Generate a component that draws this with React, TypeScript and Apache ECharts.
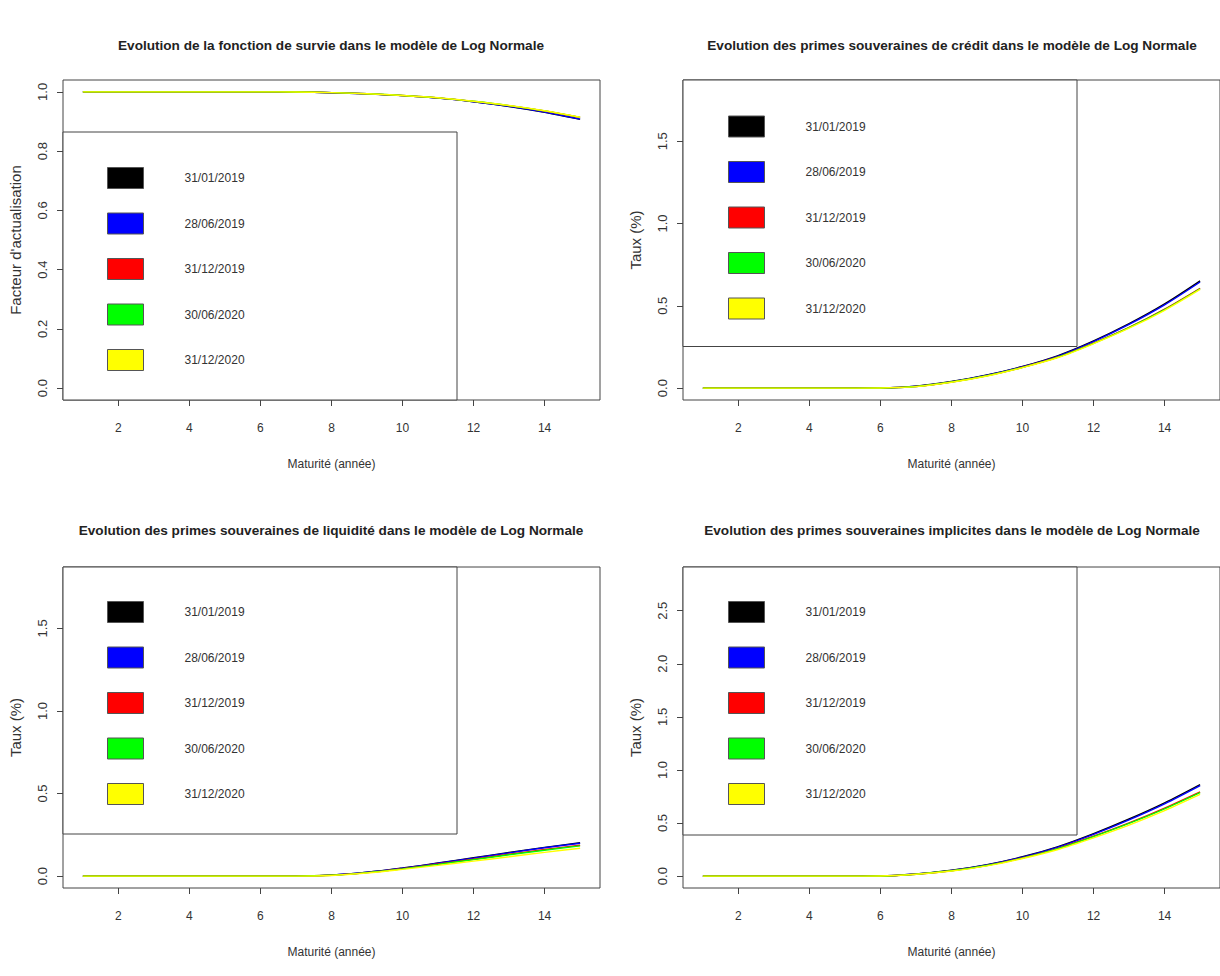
import React, { useEffect, useRef } from "react";
import * as echarts from "echarts";

// ---------- data ----------
const maturity = [1, 2, 3, 4, 5, 6, 7, 8, 9, 10, 11, 12, 13, 14, 15];
const dates = ["31/01/2019", "28/06/2019", "31/12/2019", "30/06/2020", "31/12/2020"];
const colors = ["#000000", "#0000FF", "#FF0000", "#00FF00", "#FFFF00"];

const titles = [
  "Evolution de la fonction de survie dans le modèle de Log Normale",
  "Evolution des primes souveraines de crédit dans le modèle de Log Normale",
  "Evolution des primes souveraines de liquidité dans le modèle de Log Normale",
  "Evolution des primes souveraines implicites dans le modèle de Log Normale",
];
const yNames = ["Facteur d'actualisation", "Taux (%)", "Taux (%)", "Taux (%)"];
const xName = "Maturité (année)";
const xTicks = [2, 4, 6, 8, 10, 12, 14];
const yTicksSurvie = [0, 0.2, 0.4, 0.6, 0.8, 1.0];
const yTicksCredit = [0, 0.5, 1.0, 1.5];
const yTicksLiquidite = [0, 0.5, 1.0, 1.5];
const yTicksImplicite = [0, 0.5, 1.0, 1.5, 2.0, 2.5];
const yLimSurvie = [0, 1];
const yLimCredit = [0, 1.8];
const yLimLiquidite = [0, 1.8];
const yLimImplicite = [0, 2.8];

// fonction de survie
const survie_20190131 = [1, 1, 1, 1, 1, 1, 0.9993, 0.9972, 0.9933, 0.9871, 0.9788, 0.9664, 0.9506, 0.9311, 0.9071];
const survie_20190628 = [1, 1, 1, 1, 1, 1, 0.9993, 0.9972, 0.9934, 0.9873, 0.9791, 0.9668, 0.9512, 0.9318, 0.908];
const survie_20191231 = [1, 1, 1, 1, 1, 1, 0.9994, 0.9974, 0.9935, 0.9876, 0.9797, 0.9679, 0.9534, 0.9353, 0.9133];
const survie_20200630 = [1, 1, 1, 1, 1, 1, 0.9994, 0.9974, 0.9936, 0.9877, 0.9798, 0.9681, 0.9537, 0.9357, 0.9137];
const survie_20201231 = [1, 1, 1, 1, 1, 1, 0.9995, 0.9974, 0.9937, 0.9878, 0.98, 0.9684, 0.954, 0.9362, 0.9142];

// primes de crédit (%)
const credit_20190131 = [0, 0, 0, 0, 0, 0.001, 0.012, 0.04, 0.08, 0.132, 0.198, 0.287, 0.392, 0.512, 0.652];
const credit_20190628 = [0, 0, 0, 0, 0, 0.001, 0.012, 0.039, 0.079, 0.13, 0.195, 0.283, 0.387, 0.506, 0.645];
const credit_20191231 = [0, 0, 0, 0, 0, 0.001, 0.01, 0.037, 0.076, 0.127, 0.189, 0.274, 0.369, 0.48, 0.607];
const credit_20200630 = [0, 0, 0, 0, 0, 0.001, 0.01, 0.037, 0.075, 0.126, 0.188, 0.272, 0.367, 0.477, 0.604];
const credit_20201231 = [0, 0, 0, 0, 0, 0.001, 0.009, 0.036, 0.074, 0.125, 0.186, 0.27, 0.364, 0.473, 0.6];

// primes de liquidité (%)
const liquidite_20190131 = [0, 0, 0, 0, 0, 0, 0, 0.006, 0.023, 0.049, 0.079, 0.111, 0.143, 0.174, 0.202];
const liquidite_20190628 = [0, 0, 0, 0, 0, 0, 0, 0.006, 0.023, 0.048, 0.078, 0.109, 0.141, 0.172, 0.199];
const liquidite_20191231 = [0, 0, 0, 0, 0, 0, 0, 0.005, 0.021, 0.045, 0.073, 0.102, 0.132, 0.161, 0.187];
const liquidite_20200630 = [0, 0, 0, 0, 0, 0, 0, 0.005, 0.021, 0.044, 0.071, 0.1, 0.129, 0.157, 0.183];
const liquidite_20201231 = [0, 0, 0, 0, 0, 0, 0, 0.004, 0.019, 0.041, 0.065, 0.091, 0.117, 0.144, 0.169];

// primes implicites (%)
const implicite_20190131 = [0, 0, 0, 0, 0, 0.001, 0.02, 0.055, 0.108, 0.182, 0.278, 0.4, 0.538, 0.69, 0.862];
const implicite_20190628 = [0, 0, 0, 0, 0, 0.001, 0.02, 0.054, 0.106, 0.179, 0.273, 0.394, 0.53, 0.681, 0.853];
const implicite_20191231 = [0, 0, 0, 0, 0, 0.001, 0.018, 0.051, 0.101, 0.172, 0.262, 0.376, 0.501, 0.641, 0.794];
const implicite_20200630 = [0, 0, 0, 0, 0, 0.001, 0.018, 0.05, 0.1, 0.17, 0.259, 0.372, 0.496, 0.634, 0.787];
const implicite_20201231 = [0, 0, 0, 0, 0, 0.001, 0.017, 0.048, 0.096, 0.166, 0.251, 0.361, 0.481, 0.617, 0.769];

// ---------- layout ----------
const FONT = "Liberation Sans";
const panels = [
  {
    grid: { left: 63, top: 80, width: 537, height: 320 },
    titleX: 331, titleY: 38,
    yLim: yLimSurvie, yTicks: yTicksSurvie,
    values: [survie_20190131, survie_20190628, survie_20191231, survie_20200630, survie_20201231],
    legend: { left: 107, top: 167 },
    box: { x: 63, y: 132, width: 394, height: 268 },
  },
  {
    grid: { left: 683, top: 80, width: 538, height: 320 },
    titleX: 952, titleY: 38,
    yLim: yLimCredit, yTicks: yTicksCredit,
    values: [credit_20190131, credit_20190628, credit_20191231, credit_20200630, credit_20201231],
    legend: { left: 728, top: 115.5 },
    box: { x: 683, y: 80, width: 394, height: 266.5 },
  },
  {
    grid: { left: 63, top: 567, width: 537, height: 321 },
    titleX: 331, titleY: 523,
    yLim: yLimLiquidite, yTicks: yTicksLiquidite,
    values: [liquidite_20190131, liquidite_20190628, liquidite_20191231, liquidite_20200630, liquidite_20201231],
    legend: { left: 107, top: 601 },
    box: { x: 63, y: 567, width: 394, height: 267 },
  },
  {
    grid: { left: 683, top: 567, width: 538, height: 321 },
    titleX: 952, titleY: 523,
    yLim: yLimImplicite, yTicks: yTicksImplicite,
    values: [implicite_20190131, implicite_20190628, implicite_20191231, implicite_20200630, implicite_20201231],
    legend: { left: 728, top: 601 },
    box: { x: 683, y: 567, width: 394, height: 268 },
  },
];

function buildOption() {
  const xPad = (maturity[maturity.length - 1] - maturity[0]) * 0.04;
  const axisColor = "#444";
  const option: any = {
    animation: false,
    backgroundColor: "#ffffff",
    title: [],
    grid: [],
    xAxis: [],
    yAxis: [],
    series: [],
    legend: [],
    graphic: [],
  };
  panels.forEach((p, i) => {
    option.title.push({
      text: titles[i],
      left: p.titleX,
      top: p.titleY,
      textAlign: "center",
      padding: 0,
      textStyle: { fontFamily: FONT, fontSize: 13.6, fontWeight: "bold", color: "#222" },
    });
    option.grid.push({
      ...p.grid,
      show: true,
      borderColor: axisColor,
      borderWidth: 1,
      backgroundColor: "transparent",
      containLabel: false,
    });
    option.xAxis.push({
      type: "value",
      gridIndex: i,
      min: maturity[0] - xPad,
      max: maturity[maturity.length - 1] + xPad,
      name: xName,
      nameLocation: "middle",
      nameGap: 58,
      nameTextStyle: { fontFamily: FONT, fontSize: 12, color: "#333" },
      axisLine: { show: false, onZero: false },
      splitLine: { show: false },
      axisTick: { show: true, length: 6, lineStyle: { color: axisColor }, customValues: xTicks },
      axisLabel: {
        customValues: xTicks,
        margin: 22,
        fontFamily: FONT,
        fontSize: 12,
        color: "#333",
      },
    });
    const span = p.yLim[1] - p.yLim[0];
    option.yAxis.push({
      type: "value",
      gridIndex: i,
      min: p.yLim[0] - span * 0.04,
      max: p.yLim[1] + span * 0.04,
      name: yNames[i],
      nameLocation: "middle",
      nameGap: 40,
      nameTextStyle: { fontFamily: FONT, fontSize: 15, color: "#333" },
      axisLine: { show: false, onZero: false },
      splitLine: { show: false },
      axisTick: { show: true, length: 6, lineStyle: { color: axisColor }, customValues: p.yTicks },
      axisLabel: {
        customValues: p.yTicks,
        rotate: 90,
        margin: 14,
        fontFamily: FONT,
        fontSize: 13,
        color: "#333",
        formatter: (v: number) => v.toFixed(1),
      },
    });
    p.values.forEach((arr, j) => {
      option.series.push({
        type: "line",
        name: dates[j],
        xAxisIndex: i,
        yAxisIndex: i,
        data: maturity.map((m, k) => [m, arr[k]]),
        showSymbol: false,
        smooth: 0.3,
        color: colors[j],
        itemStyle: { color: colors[j] },
        lineStyle: { color: colors[j], width: 1.4 },
        z: 2,
      });
    });
    option.graphic.push({
      type: "rect",
      shape: { ...p.box },
      style: { fill: "#ffffff", stroke: axisColor, lineWidth: 1 },
      z: 5,
      silent: true,
    });
    option.legend.push({
      data: dates,
      orient: "vertical",
      left: p.legend.left,
      top: p.legend.top,
      padding: 0,
      itemWidth: 36,
      itemHeight: 21,
      itemGap: 23.5,
      icon: "rect",
      selectedMode: false,
      z: 10,
      itemStyle: { borderColor: "#555", borderWidth: 1 },
      textStyle: { fontFamily: FONT, fontSize: 12, color: "#333", padding: [0, 0, 0, 36] },
    });
  });
  return option;
}

export default function App() {
  const ref = useRef<HTMLDivElement>(null);
  useEffect(() => {
    if (!ref.current) return;
    const chart = echarts.init(ref.current, undefined, { renderer: "svg" });
    chart.setOption(buildOption());
    return () => chart.dispose();
  }, []);
  return (
    <div
      ref={ref}
      style={{ position: "absolute", left: 0, top: 0, width: 1220, height: 976, background: "#fff" }}
    />
  );
}
